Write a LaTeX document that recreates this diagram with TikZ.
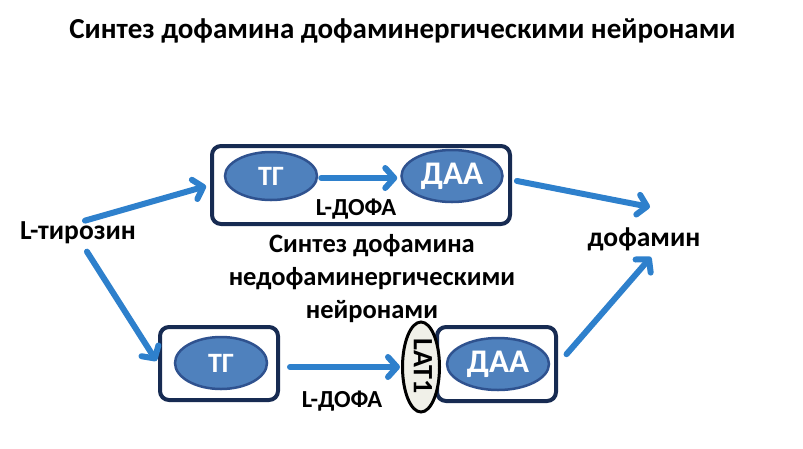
\documentclass[tikz,border=0pt]{standalone}
\usepackage{fontspec}
\setmainfont{Carlito}
\usetikzlibrary{arrows.meta,shapes.geometric}
\definecolor{boxblue}{RGB}{23,43,82}
\definecolor{ellfill}{RGB}{79,129,189}
\definecolor{elldraw}{RGB}{47,82,143}
\definecolor{arrblue}{RGB}{46,128,204}
\definecolor{latfill}{RGB}{240,240,232}
\tikzset{every node/.style={draw=none,inner sep=0pt,font=\bfseries\fontsize{27.5}{33}\selectfont},
  cell/.style={draw=boxblue,line width=4pt,rounded corners=9pt},
  enz/.style={ellipse,draw=elldraw,fill=ellfill,line width=2.5pt,text=white},
  midtext/.style={anchor=base,font=\bfseries\fontsize{26.5}{32}\selectfont},
  arr/.style={draw=arrblue,line width=6pt,-{Straight Barb[length=9pt,width=20pt,round]},line cap=round}}

\begin{document}
\begin{tikzpicture}[x=1pt,y=-1pt]
      \useasboundingbox (0,0) rectangle (803,448);
      \node[anchor=base] (title) at (402.5,38.5) {\fontsize{29}{34}\selectfont Синтез дофамина дофаминергическими нейронами};
      \node[anchor=base] (tyr) at (78,239.5) {L-тирозин};
      \node[anchor=base] (dop) at (644,246.5) {дофамин};
      \node[midtext] (mid1) at (372,252) {Синтез дофамина};
      \node[midtext] (mid2) at (372,285) {недофаминергическими};
      \node[midtext] (mid3) at (372,318.5) {нейронами};
      \node[cell,minimum width=298pt,minimum height=78pt] (top) at (361,185) {};
      \node[cell,minimum width=118pt,minimum height=73pt] (botL) at (219,363.5) {};
      \node[cell,minimum width=119pt,minimum height=74pt] (botR) at (496.5,364) {};
      \node[enz,minimum width=92pt,minimum height=48pt] (tg1) at (271,176) {\fontsize{28}{32}\selectfont ТГ};
      \node[enz,minimum width=101pt,minimum height=52pt] (daa1) at (452,176) {\fontsize{33}{38}\selectfont ДАА};
      \node[enz,minimum width=92pt,minimum height=52pt] (tg2) at (221,363) {\fontsize{28}{32}\selectfont ТГ};
      \node[enz,minimum width=102pt,minimum height=52pt] (daa2) at (498,364) {\fontsize{33}{38}\selectfont ДАА};
      \node[ellipse,draw=black,fill=latfill,line width=3pt,minimum width=37pt,minimum height=90pt] (lat) at (421,367) {};
      \node[rotate=-90] (latname) at (423,366) {\fontsize{28}{32}\selectfont LAT1};
      \node[anchor=base] (dopa1) at (356,215) {\fontsize{24.5}{29}\selectfont L-ДОФА};
      \node[anchor=base] (dopa2) at (342,407) {\fontsize{24.5}{29}\selectfont L-ДОФА};
      \coordinate (dopin1) at (650,207);
      \coordinate (dopin2) at (651,257);

\draw[arr,shorten <=3pt,shorten >=4pt] (tyr.70) -- (top.west);
\draw[arr,shorten <=9pt,shorten >=3pt] (tyr.-70) -- (botL.west);
\draw[arr,shorten <=3pt,shorten >=3pt] ([yshift=-2pt]tg1.east) -- ([yshift=-2pt]daa1.west);
\draw[arr,shorten <=10pt,shorten >=1pt] (botL.east |- lat.west) -- (lat.west);
\draw[arr,shorten <=5pt] ([yshift=5pt]top.east) -- (dopin1);
\draw[arr,shorten <=13pt] (botR.east) -- (dopin2);
    \end{tikzpicture}
\end{document}
